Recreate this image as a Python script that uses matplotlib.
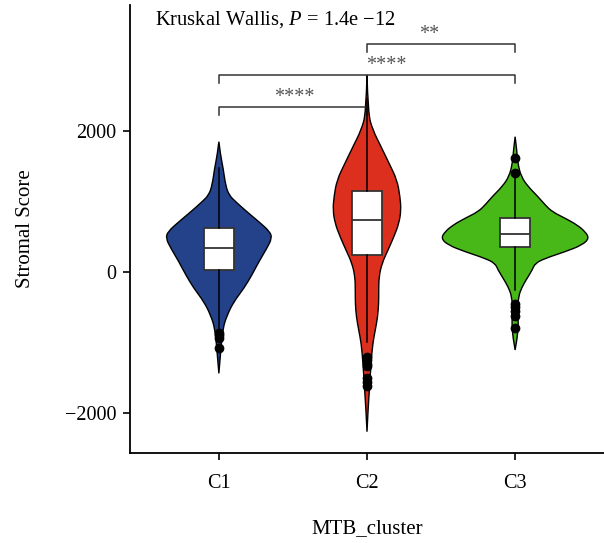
import numpy as np
import matplotlib.pyplot as plt
from matplotlib.path import Path
from matplotlib.patches import PathPatch

plt.rcParams['font.family'] = 'Liberation Serif'
plt.rcParams['mathtext.fontset'] = 'custom'
plt.rcParams['mathtext.it'] = 'Liberation Serif:italic'
plt.rcParams['mathtext.rm'] = 'Liberation Serif'

grupos = ['C1', 'C2', 'C3']
colores = ['#23428A', '#DC2F1E', '#48B819']

# contorno de cada violin: altura y medio ancho (unidades del eje x)
c1_y = [1848, 1660, 1471, 1234, 1092, 997, 855, 713, 572, 478, 336, 146, -43, -231, -421, -610, -799, -1082, -1437]
c1_w = [0, .011, .029, .045, .068, .113, .189, .270, .345, .358, .324, .270, .223, .169, .101, .056, .027, .014, 0]

c2_y = [2794, 2251, 2014, 1777, 1542, 1305, 1068, 879, 691, 501, 312, 123, -67, -255, -444, -634, -823, -1011,
        -1295, -1674, -1957, -2265]
c2_w = [0, .007, .039, .095, .149, .203, .223, .230, .216, .182, .142, .101, .081, .079, .079, .072, .056, .039,
        .027, .016, .007, 0]

c3_y = [1919, 1730, 1542, 1352, 1210, 1068, 950, 855, 762, 667, 572, 478, 383, 288, 194, 123, 28, -89, -209,
        -350, -539, -728, -918, -1106]
c3_w = [0, .011, .018, .041, .088, .155, .203, .250, .338, .419, .473, .500, .453, .338, .203, .135, .115, .081,
        .047, .022, .018, .022, .016, 0]

perfiles = [(c1_y, c1_w), (c2_y, c2_w), (c3_y, c3_w)]

# cuartiles, bigotes y atipicos
q1 = [28, 241, 355]
mediana = [345, 738, 539]
q3 = [624, 1149, 766]
bigote_inf = [-850, -993, -250]
bigote_sup = [1480, 2450, 1350]
atipicos = [
    [-870, -900, -940, -1083],
    [-1200, -1250, -1300, -1330, -1500, -1560, -1620],
    [1612, 1400, -450, -500, -560, -620, -800],
]

# comparaciones entre grupos
comparaciones = [(1, 2), (1, 3), (2, 3)]
altura_barra = [2340, 2794, 3234]
etiquetas = ['****', '****', '**']
x_etiqueta = [1.51, 2.13, 2.42]


def curva_suave(puntos):
    # curva cuadratica que pasa por los puntos medios, fija en los extremos
    verts = [puntos[0]]
    codes = [Path.MOVETO]
    for i in range(1, len(puntos) - 1):
        p = puntos[i]
        q = puntos[i + 1]
        fin = ((p[0] + q[0]) / 2, (p[1] + q[1]) / 2) if i < len(puntos) - 2 else q
        verts += [p, fin]
        codes += [Path.CURVE3, Path.CURVE3]
    return verts, codes


def violin(ax, pos, yy, ww, color):
    der = [(pos + w, y) for y, w in zip(yy, ww)]
    izq = [(pos - w, y) for y, w in zip(yy[::-1], ww[::-1])]
    v1, c1 = curva_suave(der)
    v2, c2 = curva_suave(izq)
    verts = v1 + v2[1:] + [(0, 0)]
    codes = c1 + c2[1:] + [Path.CLOSEPOLY]
    ax.add_patch(PathPatch(Path(verts, codes), facecolor=color, edgecolor='black',
                           linewidth=1, zorder=1))


fig = plt.figure(figsize=(6.04, 5.43), dpi=100)
ax = fig.add_axes([130 / 604, 1 - 453 / 543, 474 / 604, 448 / 543])

for i, (yy, ww) in enumerate(perfiles):
    violin(ax, i + 1, yy, ww, colores[i])

stats = []
for i in range(3):
    stats.append({'med': mediana[i], 'q1': q1[i], 'q3': q3[i],
                  'whislo': bigote_inf[i], 'whishi': bigote_sup[i],
                  'fliers': atipicos[i]})

ax.bxp(stats, positions=[1, 2, 3], widths=0.2, patch_artist=True,
       showcaps=False, manage_ticks=False, zorder=3,
       boxprops=dict(facecolor='white', edgecolor='#333333', linewidth=1.3),
       medianprops=dict(color='#333333', linewidth=1.3),
       whiskerprops=dict(color='black', linewidth=1.1),
       flierprops=dict(marker='o', markerfacecolor='black', markeredgecolor='black',
                       markersize=6))

for (a, b), h, txt, xt in zip(comparaciones, altura_barra, etiquetas, x_etiqueta):
    ax.plot([a, a, b, b], [h - 120, h, h, h - 120], color='#333333', linewidth=1.1)
    ax.text(xt, h + 140, txt, ha='center', va='center', fontsize=14.5, color='#555555')

ax.text(0.57, 3574, r'Kruskal Wallis, $\mathit{P}$ = 1.4e $-$12', ha='left', va='center', fontsize=14.8)

ax.set_xlim(0.4, 3.6)
ax.set_ylim(-2567, 3787)
ax.set_xticks([1, 2, 3])
ax.set_xticklabels(grupos)
ax.set_yticks([-2000, 0, 2000])

for s in ['top', 'right']:
    ax.spines[s].set_visible(False)
for s in ['left', 'bottom']:
    ax.spines[s].set_linewidth(1.3)

ax.tick_params(length=5, width=1.2, labelsize=14.5)
ax.tick_params(axis='x', pad=10)
ax.tick_params(axis='y', pad=5)
ax.set_xlabel('MTB_cluster', fontsize=15, labelpad=19)
ax.set_ylabel('Stromal Score', fontsize=15, labelpad=21)

plt.savefig('out.png', dpi=100)
